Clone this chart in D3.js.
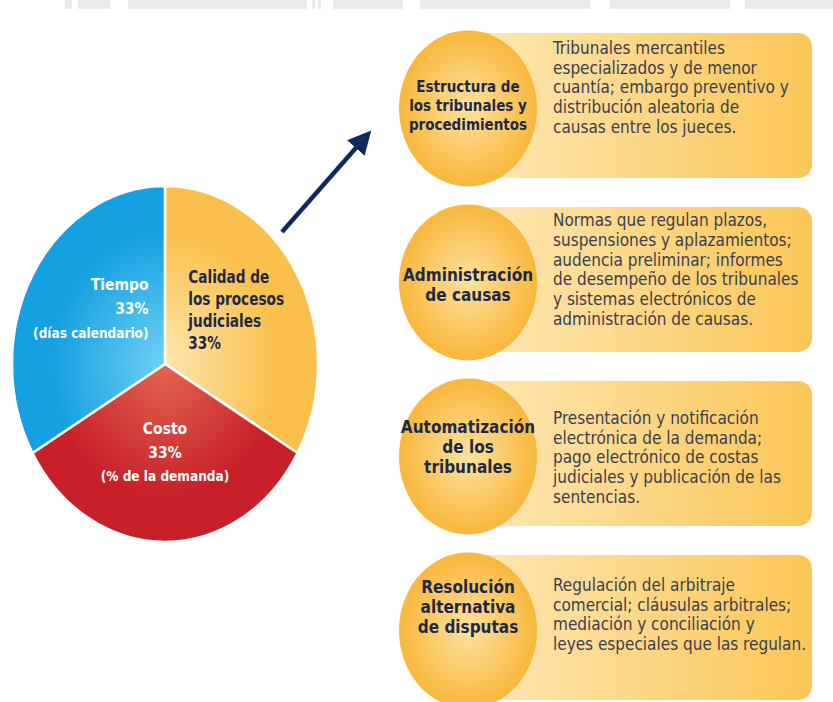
<!DOCTYPE html>
<html>
<head>
<meta charset="utf-8">
<script src="https://cdn.jsdelivr.net/npm/d3@7"></script>
<style>
  body { margin: 0; background: #fff; }
  svg { display: block; }
  text { font-family: 'Liberation Sans Narrow', 'DejaVu Sans Condensed', 'Roboto Condensed', sans-serif; }
</style>
</head>
<body>
<svg id="chart" width="833" height="702"></svg>
<script>
// pie slices, clockwise from 12 o'clock
var sliceNames = ["Calidad", "Costo", "Tiempo"];
var sliceValues = [33, 33, 33];
var sliceLabels = [
  ["Calidad de", "los procesos", "judiciales", "33%"],
  ["Costo", "33%", "(% de la demanda)"],
  ["Tiempo", "33%", "(días calendario)"]
];

// right-hand panels
var areaTitles = [
  ["Estructura de", "los tribunales y", "procedimientos"],
  ["Administración", "de causas"],
  ["Automatización", "de los", "tribunales"],
  ["Resolución", "alternativa", "de disputas"]
];
var areaTexts = [
  ["Tribunales mercantiles", "especializados y de menor", "cuantía; embargo preventivo y", "distribución aleatoria de", "causas entre los jueces."],
  ["Normas que regulan plazos,", "suspensiones y aplazamientos;", "audencia preliminar; informes", "de desempeño de los tribunales", "y sistemas electrónicos de", "administración de causas."],
  ["Presentación y notificación", "electrónica de la demanda;", "pago electrónico de costas", "judiciales y publicación de las", "sentencias."],
  ["Regulación del arbitraje", "comercial; cláusulas arbitrales;", "mediación y conciliación y", "leyes especiales que las regulan."]
];

var svg = d3.select("#chart");
var defs = svg.append("defs");

// faint watermark band at the very top
var band = svg.append("g").attr("fill", "#ececf0");
[[65, 7], [78, 32], [128, 179], [312, 3], [318, 3], [333, 70], [420, 170], [610, 120], [745, 88]].forEach(function(b) {
  band.append("rect").attr("x", b[0]).attr("y", 0).attr("width", b[1]).attr("height", 9);
});

// ---------- pie ----------
var cx = 165, cy = 364, rx = 153, ry = 178;
var sy = ry / rx;

var sliceColors = {
  Calidad: ["#fde6ae", "#fbc04c"],
  Costo:   ["#e2664f", "#c8202b"],
  Tiempo:  ["#6fd0f4", "#14a0e1"]
};
sliceNames.forEach(function(n) {
  var gr = defs.append("radialGradient").attr("id", "g-" + n)
    .attr("gradientUnits", "userSpaceOnUse").attr("cx", 0).attr("cy", 0).attr("r", rx);
  gr.append("stop").attr("offset", "0%").attr("stop-color", sliceColors[n][0]);
  gr.append("stop").attr("offset", "75%").attr("stop-color", sliceColors[n][1]);
});

var pie = d3.pie().sort(null).value(function(d) { return d; });
var arcs = pie(sliceValues);
var arc = d3.arc().innerRadius(0).outerRadius(rx);

var pieG = svg.append("g").attr("transform", "translate(" + cx + "," + cy + ") scale(1," + sy + ")");
pieG.selectAll("path").data(arcs).enter().append("path")
  .attr("d", arc)
  .attr("fill", function(d, i) { return "url(#g-" + sliceNames[i] + ")"; })
  .attr("stroke", "#fff")
  .attr("stroke-width", 2.5)
  .attr("vector-effect", "non-scaling-stroke");

// label placement per slice: radius of centroid, anchor, shifts, colour, size, line height, x-squeeze
var labelStyle = [
  { r: 80, anchor: "start", dx: -46, dy: -8, fill: "#1d2944", size: 18.5, lh: 22, sx: 0.82 },
  { r: 80, anchor: "middle", dx: 0, dy: -5, fill: "#ffffff", size: 15.5, lh: 24, sx: 1 },
  { r: 86, anchor: "end", dx: 58, dy: -5, fill: "#ffffff", size: 15.5, lh: 24, sx: 1 }
];
arcs.forEach(function(a, i) {
  var st = labelStyle[i];
  var c = d3.arc().innerRadius(st.r).outerRadius(st.r).centroid(a);
  var x = cx + c[0] + st.dx, y = cy + c[1] * sy + st.dy;
  var lines = sliceLabels[i];
  var t = svg.append("g").attr("transform", "translate(" + x + "," + y + ") scale(" + st.sx + ",1)")
    .append("text").attr("text-anchor", st.anchor).attr("fill", st.fill)
    .attr("font-weight", "bold").attr("font-size", st.size);
  lines.forEach(function(l, k) {
    var fs = (i > 0 && k === 2) ? 13.5 : st.size;
    t.append("tspan").attr("x", 0)
      .attr("y", (k - (lines.length - 1) / 2) * st.lh)
      .attr("dy", "0.35em").attr("font-size", fs).text(l);
  });
});

// arrow
defs.append("marker").attr("id", "head").attr("viewBox", "0 0 10 10")
  .attr("refX", 4).attr("refY", 5).attr("markerWidth", 5.2).attr("markerHeight", 5.2)
  .attr("orient", "auto").attr("markerUnits", "strokeWidth")
  .append("path").attr("d", "M0,0 L10,5 L0,10 Z").attr("fill", "#0e2a5c");
svg.append("line")
  .attr("x1", 282).attr("y1", 232).attr("x2", 362).attr("y2", 141)
  .attr("stroke", "#0e2a5c").attr("stroke-width", 4.5)
  .attr("marker-end", "url(#head)");

// ---------- panels ----------
var rowY = d3.scaleBand().domain(d3.range(areaTitles.length)).range([33, 700]).paddingInner(1 - 145 / 174);
var circX = 468, boxRight = 812;
var titleNudge = [0, 6, -6, -20];
var descNudge = [-18, -10, 4, -13];

var bg = defs.append("linearGradient").attr("id", "boxGrad").attr("x1", 0).attr("x2", 1).attr("y1", 0).attr("y2", 0);
bg.append("stop").attr("offset", "0%").attr("stop-color", "#fde8b6");
bg.append("stop").attr("offset", "100%").attr("stop-color", "#fbc656");

var cg = defs.append("radialGradient").attr("id", "circGrad").attr("cx", "50%").attr("cy", "50%").attr("r", "50%");
cg.append("stop").attr("offset", "0%").attr("stop-color", "#fde2a0");
cg.append("stop").attr("offset", "100%").attr("stop-color", "#f9b73c");

var rows = svg.selectAll("g.row").data(areaTitles).enter().append("g").attr("class", "row")
  .attr("transform", function(d, i) { return "translate(0," + rowY(i) + ")"; });
var bh = rowY.bandwidth();

rows.append("rect")
  .attr("x", circX).attr("y", 0).attr("width", boxRight - circX).attr("height", bh)
  .attr("rx", 14).attr("fill", "url(#boxGrad)");

rows.append("ellipse")
  .attr("cx", circX).attr("cy", bh / 2 + 3).attr("rx", 69).attr("ry", 78)
  .attr("fill", "url(#circGrad)");

rows.each(function(d, i) {
  var g = d3.select(this);
  var fs = i === 0 ? 15 : 17;
  var lh = i === 0 ? 19 : 20;
  var t = g.append("text").attr("text-anchor", "middle").attr("fill", "#1d2944")
    .attr("font-weight", "bold").attr("font-size", fs);
  d.forEach(function(l, k) {
    t.append("tspan").attr("x", circX).attr("y", bh / 2 + titleNudge[i] + (k - (d.length - 1) / 2) * lh)
      .attr("dy", "0.35em").text(l);
  });
  var desc = areaTexts[i];
  var t2 = g.append("text").attr("fill", "#3a3f50").attr("font-size", 17);
  desc.forEach(function(l, k) {
    t2.append("tspan").attr("x", 553).attr("y", bh / 2 + descNudge[i] + (k - (desc.length - 1) / 2) * 19.8)
      .attr("dy", "0.35em").text(l);
  });
});
</script>
</body>
</html>
